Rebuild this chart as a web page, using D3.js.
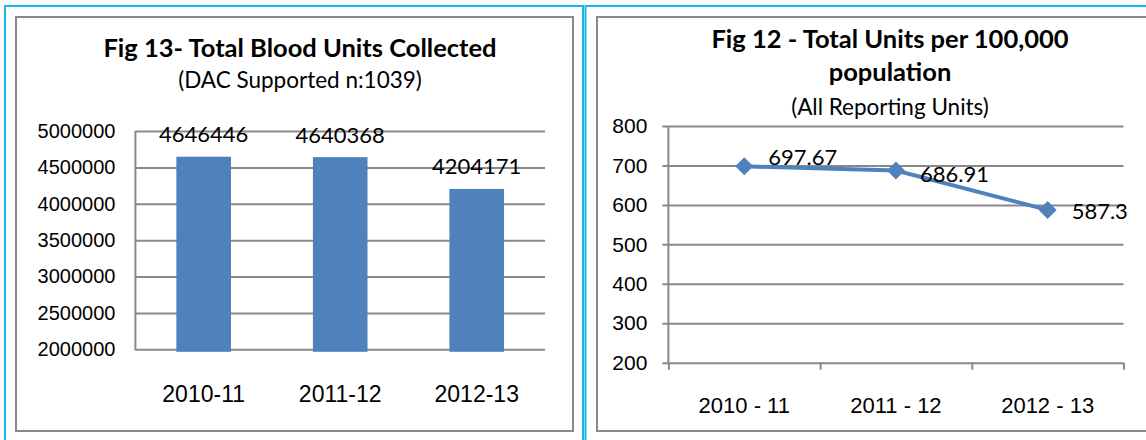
<!DOCTYPE html>
<html>
<head>
<meta charset="utf-8">
<script src="https://cdn.jsdelivr.net/npm/d3@7"></script>
<style>
  body { margin: 0; background: #fff; }
  svg { display: block; font-family: Lato, "Open Sans", sans-serif; }
</style>
</head>
<body>
<script>
// Fig 13 data
var years = ["2010-11", "2011-12", "2012-13"];
var unitsCollected = [4646446, 4640368, 4204171];
var unitTicks = [2000000, 2500000, 3000000, 3500000, 4000000, 4500000, 5000000];

// Fig 12 data
var periods = ["2010 - 11", "2011 - 12", "2012 - 13"];
var unitsPer100k = [697.67, 686.91, 587.3];
var rateTicks = [200, 300, 400, 500, 600, 700, 800];

var fig13Title = ["Fig 13- Total Blood Units Collected", "(DAC Supported n:1039)"];
var fig12Title = ["Fig 12 - Total Units per 100,000", "population", "(All Reporting Units)"];

var blue = "#4f81bd",
    grid = "#898989",
    cyan = "#17b5ec";

var svg = d3.select("body").append("svg")
    .attr("width", 1146)
    .attr("height", 440);

// outer frames (cyan) and chart areas (gray)
var frames = [
    {x: 5, y: 6, w: 578, h: 460, c: cyan},
    {x: 585.5, y: 6, w: 600, h: 460, c: cyan},
    {x: 16, y: 17, w: 557, h: 414, c: grid},
    {x: 597, y: 17, w: 600, h: 414, c: grid}
];
svg.selectAll(".frame")
    .data(frames)
    .enter().append("rect")
    .attr("class", "frame")
    .attr("x", function(d){ return d.x; })
    .attr("y", function(d){ return d.y; })
    .attr("width", function(d){ return d.w; })
    .attr("height", function(d){ return d.h; })
    .attr("fill", "none")
    .attr("stroke", function(d){ return d.c; })
    .attr("stroke-width", 2);

var drawTitle = function(lines, cx, baselines, bold){
    lines.forEach(function(t, i){
        svg.append("text")
            .attr("x", cx)
            .attr("y", baselines[i])
            .attr("text-anchor", "middle")
            .style("font-size", bold[i] ? "25.5px" : "22.5px")
            .style("font-weight", bold[i] ? "bold" : "normal")
            .text(t);
    });
};

// ---------- Fig 13: bars ----------
var buildBars = function(){
    var left = 135.4, right = 545, top = 131, bottom = 349.3;

    var x = d3.scaleBand()
        .domain(years)
        .range([left, right])
        .paddingInner(0.6)
        .paddingOuter(0.3);

    var y = d3.scaleLinear()
        .domain([unitTicks[0], unitTicks[unitTicks.length - 1]])
        .range([bottom, top]);

    var yAxis = svg.append("g")
        .attr("transform", "translate(" + left + ",0)")
        .call(d3.axisLeft(y)
            .tickValues(unitTicks)
            .tickSize(-(right - left))
            .tickPadding(20)
            .tickFormat(d3.format("d")));
    yAxis.select(".domain").remove();
    yAxis.selectAll("line").attr("stroke", grid).attr("stroke-width", 2);
    yAxis.selectAll("text").style("font-size", "20px").attr("fill", "#000").attr("font-family", null);

    svg.append("line")
        .attr("x1", left).attr("x2", left)
        .attr("y1", top).attr("y2", bottom + 1)
        .attr("stroke", grid).attr("stroke-width", 2);

    var data = years.map(function(yr, i){ return {year: yr, value: unitsCollected[i]}; });

    svg.selectAll(".bar")
        .data(data)
        .enter().append("rect")
        .attr("class", "bar")
        .attr("x", function(d){ return x(d.year); })
        .attr("y", function(d){ return y(d.value); })
        .attr("width", x.bandwidth())
        .attr("height", function(d){ return y(unitTicks[0]) - y(d.value) + 2.5; })
        .attr("fill", blue);

    svg.selectAll(".barlabel")
        .data(data)
        .enter().append("text")
        .attr("class", "barlabel")
        .attr("x", function(d){ return x(d.year) + x.bandwidth() / 2; })
        .attr("y", function(d){ return y(d.value) - 14.5; })
        .attr("text-anchor", "middle")
        .style("font-size", "22px")
        .text(function(d){ return d.value; });

    var xAxis = svg.append("g")
        .attr("transform", "translate(0," + bottom + ")")
        .call(d3.axisBottom(x).tickSize(0));
    xAxis.select(".domain").remove();
    xAxis.selectAll("text")
        .attr("y", 52.4).attr("dy", null)
        .attr("fill", "#000").attr("font-family", null)
        .style("font-size", "23px");

    drawTitle(fig13Title, 300, [57, 88], [true, false]);
};

// ---------- Fig 12: line ----------
var buildLine = function(){
    var left = 668.4, right = 1123.5, top = 126, bottom = 362.7;

    var x = d3.scaleBand()
        .domain(periods)
        .range([left, right]);

    var edges = d3.scaleLinear()
        .domain([0, periods.length])
        .range([left, right]);

    var y = d3.scaleLinear()
        .domain([rateTicks[0], rateTicks[rateTicks.length - 1]])
        .range([bottom, top]);

    var yAxis = svg.append("g")
        .attr("transform", "translate(" + left + ",0)")
        .call(d3.axisLeft(y)
            .tickValues(rateTicks)
            .tickSize(6)
            .tickPadding(15));
    yAxis.select(".domain").remove();
    yAxis.selectAll("line")
        .attr("x2", right - left)
        .attr("x1", -6)
        .attr("stroke", grid).attr("stroke-width", 2);
    yAxis.selectAll("text").style("font-size", "21px").attr("fill", "#000").attr("font-family", null);

    svg.append("line")
        .attr("x1", left).attr("x2", left)
        .attr("y1", top).attr("y2", bottom)
        .attr("stroke", grid).attr("stroke-width", 2);

    var xTicks = svg.append("g")
        .attr("transform", "translate(0," + bottom + ")")
        .call(d3.axisBottom(edges)
            .tickValues(d3.range(periods.length + 1))
            .tickSize(7)
            .tickFormat(""));
    xTicks.select(".domain").remove();
    xTicks.selectAll("line").attr("stroke", grid).attr("stroke-width", 2);

    var xAxis = svg.append("g")
        .attr("transform", "translate(0," + bottom + ")")
        .call(d3.axisBottom(x).tickSize(0));
    xAxis.select(".domain").remove();
    xAxis.selectAll("text")
        .attr("y", 50).attr("dy", null)
        .attr("fill", "#000").attr("font-family", null)
        .style("font-size", "22px");

    var data = periods.map(function(p, i){ return {period: p, value: unitsPer100k[i]}; });
    var cx = function(d){ return x(d.period) + x.bandwidth() / 2; };

    var line = d3.line()
        .x(cx)
        .y(function(d){ return y(d.value); });

    svg.append("path")
        .datum(data)
        .attr("d", line)
        .attr("fill", "none")
        .attr("stroke", blue)
        .attr("stroke-width", 4);

    // square turned on its corner, like the Excel marker
    var diamond = {
        draw: function(context, size){
            var r = Math.sqrt(size) / 2;
            context.moveTo(0, -r);
            context.lineTo(r, 0);
            context.lineTo(0, r);
            context.lineTo(-r, 0);
            context.closePath();
        }
    };

    svg.selectAll(".marker")
        .data(data)
        .enter().append("path")
        .attr("class", "marker")
        .attr("transform", function(d){ return "translate(" + cx(d) + "," + y(d.value) + ")"; })
        .attr("d", d3.symbol().type(diamond).size(324))
        .attr("fill", blue);

    // labels sit to the right; Excel nudged them a little differently each
    var labelDy = [-1, 11, 9];
    svg.selectAll(".ptlabel")
        .data(data)
        .enter().append("text")
        .attr("class", "ptlabel")
        .attr("x", function(d){ return cx(d) + 24; })
        .attr("y", function(d, i){ return y(d.value) + labelDy[i]; })
        .style("font-size", "22px")
        .text(function(d){ return d.value; });

    drawTitle(fig12Title, 890, [47.7, 81, 115], [true, true, false]);
};

buildBars();
buildLine();
</script>
</body>
</html>
